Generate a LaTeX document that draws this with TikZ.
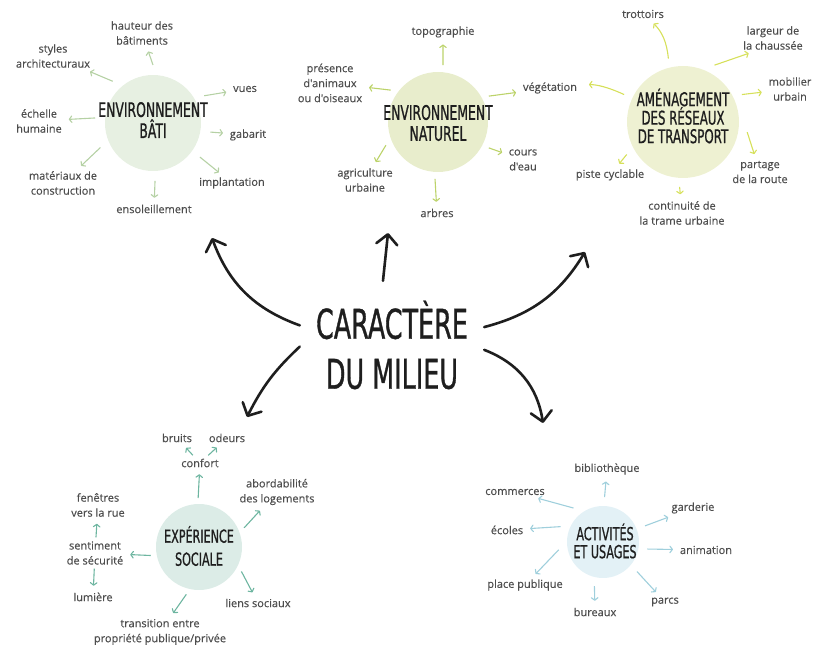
\documentclass[tikz,border=0pt]{standalone}
\usepackage{fontspec}
\setmainfont{Open Sans}
\newfontfamily\etiquettefont[FakeBold=0.35]{Open Sans}
\newfontfamily\mainlevee[FakeStretch=0.62, FakeBold=0.8]{DejaVu Sans}
\usetikzlibrary{arrows.meta}
\definecolor{encre}{HTML}{1E1E1E}
\definecolor{texte}{HTML}{4D4D4D}
\definecolor{fondbati}{HTML}{E7F0E2}
\definecolor{fondnaturel}{HTML}{E8EDCC}
\definecolor{fondtransport}{HTML}{EEF1D2}
\definecolor{fondsociale}{HTML}{DCECE7}
\definecolor{fondusages}{HTML}{E3F1F6}
\definecolor{flbati}{HTML}{B5D1A4}
\definecolor{flnaturel}{HTML}{BCD36A}
\definecolor{fltransport}{HTML}{D6E05A}
\definecolor{flsociale}{HTML}{6DB5A0}
\definecolor{flusages}{HTML}{9FCFDC}
\tikzset{
    cercle/.style={circle, inner sep=0pt, outer sep=8pt},
    titre/.style={align=center, inner sep=0pt, text=encre,
        font=\mainlevee\fontsize{20}{21}\selectfont},
    etiquette/.style={align=center, inner sep=1pt, outer sep=1pt, text=texte,
        font=\etiquettefont\fontsize{11}{15}\selectfont},
    fleche/.style={line width=1.1pt, shorten >=5pt,
        -{Straight Barb[length=2.5pt, width=6.5pt, round]}},
    grandefleche/.style={line width=2.6pt, line cap=round, draw=encre,
        -{Straight Barb[length=10pt, width=21pt, round]}}}

\begin{document}
\begin{tikzpicture}[x=1pt, y=-1pt]
    \useasboundingbox (0,0) rectangle (813,652);

    % Environnement bâti
    \node (bati) [cercle, fill=fondbati, minimum size=96pt, outer sep=10pt] at (153,123) {};
    \node (batititre) [titre] at (153,120) {ENVIRONNEMENT\\BÂTI};
    \node (hauteur) [etiquette] at (142,33) {hauteur des\\bâtiments};
    \node (styles) [etiquette] at (53,56) {styles\\architecturaux};
    \node (vues) [etiquette] at (245,89) {vues};
    \node (echelle) [etiquette] at (39,121) {échelle\\humaine};
    \node (gabarit) [etiquette] at (248,135) {gabarit};
    \node (materiaux) [etiquette] at (63,183) {matériaux de\\construction};
    \node (implantation) [etiquette] at (232,183) {implantation};
    \node (ensoleillement) [etiquette] at (154,209) {ensoleillement};
    \foreach \ang/\cible in {90/hauteur, 134/styles, 28/vues, 175/echelle, -9/gabarit,
            205/materiaux, -36/implantation, -88/ensoleillement}
        \draw[fleche, flbati] (bati.\ang) -- (\cible);

    % Environnement naturel
    \node (naturel) [cercle, fill=fondnaturel, minimum size=100pt, outer sep=7pt] at (438,122) {};
    \node (natureltitre) [titre] at (438,123) {ENVIRONNEMENT\\NATUREL};
    \node (topographie) [etiquette] at (443,32) {topographie};
    \node (presence) [etiquette] at (330,83) {présence\\d'animaux\\ou d'oiseaux};
    \node (vegetation) [etiquette] at (550,88) {végétation};
    \node (cours) [etiquette] at (523,160) {cours\\d'eau};
    \node (agriculture) [etiquette] at (365,180) {agriculture\\urbaine};
    \node (arbres) [etiquette] at (437,213) {arbres};
    \foreach \ang/\cible in {85/topographie, 146/presence, 27/vegetation, -27/cours,
            204/agriculture, -93/arbres}
        \draw[fleche, flnaturel] (naturel.\ang) -- (\cible);

    % Aménagement des réseaux de transport
    \node (transport) [cercle, fill=fondtransport, minimum size=112pt, outer sep=9pt] at (683,122) {};
    \node (transporttitre) [titre, font=\mainlevee\fontsize{19}{18.5}\selectfont] at (683,116)
        {AMÉNAGEMENT\\DES RÉSEAUX\\DE TRANSPORT};
    \node (trottoirs) [etiquette] at (643,14) {trottoirs};
    \node (largeur) [etiquette] at (773,38) {largeur de\\la chaussée};
    \node (mobilier) [etiquette] at (790,89) {mobilier\\urbain};
    \node (partage) [etiquette] at (760,172) {partage\\de la route};
    \node (continuite) [etiquette] at (682,213) {continuité de\\la trame urbaine};
    \node (piste) [etiquette] at (610,175) {piste cyclable};
    \foreach \ang/\cible in {25/mobilier, -9/partage, -93/continuite, 210/piste}
        \draw[fleche, fltransport] (transport.\ang) -- (\cible);
    \draw[fleche, fltransport] (transport.61) -- (largeur.-145);
    \draw[fleche, fltransport] (transport.103) to[bend right=20] (trottoirs);
    \draw[fleche, fltransport, shorten >=10pt] (transport.155) to[bend right=12] (vegetation);

    % Expérience sociale
    \node (sociale) [cercle, fill=fondsociale, minimum size=86pt, outer sep=6pt] at (199,547) {};
    \node (socialetitre) [titre, font=\mainlevee\fontsize{18}{23}\selectfont] at (199,546)
        {EXPÉRIENCE\\SOCIALE};
    \node (confort) [etiquette] at (200,463) {confort};
    \node (bruits) [etiquette] at (177,438) {bruits};
    \node (odeurs) [etiquette] at (227,438) {odeurs};
    \node (abordabilite) [etiquette] at (277,492) {abordabilité\\des logements};
    \node (fenetres) [etiquette] at (98,505) {fenêtres\\vers la rue};
    \node (sentiment) [etiquette] at (95,553) {sentiment\\de sécurité};
    \node (lumiere) [etiquette] at (93,597) {lumière};
    \node (liens) [etiquette] at (258,603) {liens sociaux};
    \node (transition) [etiquette] at (160,632) {transition entre\\propriété publique/privée};
    \foreach \ang/\cible in {91/confort, 23/abordabilite, 190/sentiment, -30/liens, -105/transition}
        \draw[fleche, flsociale] (sociale.\ang) -- (\cible);
    \foreach \de/\vers in {confort/bruits, confort/odeurs, sentiment/fenetres, sentiment/lumiere}
        \draw[fleche, flsociale, shorten <=2pt] (\de) -- (\vers);

    % Activités et usages
    \node (usages) [cercle, fill=fondusages, minimum size=72pt, outer sep=9pt] at (603,542) {};
    \node (usagestitre) [titre, font=\mainlevee\fontsize{18}{18}\selectfont] at (605,541)
        {ACTIVITÉS\\ET USAGES};
    \node (bibliotheque) [etiquette] at (607,469) {bibliothèque};
    \node (commerces) [etiquette] at (515,492) {commerces};
    \node (ecoles) [etiquette] at (507,530) {écoles};
    \node (garderie) [etiquette] at (693,508) {garderie};
    \node (animation) [etiquette] at (706,550) {animation};
    \node (place) [etiquette] at (525,585) {place publique};
    \node (bureaux) [etiquette] at (595,612) {bureaux};
    \node (parcs) [etiquette] at (665,602) {parcs};
    \foreach \ang/\cible in {88/bibliotheque, 131/commerces, 160/ecoles, 21/garderie,
            -9/animation, 190/place, -101/bureaux, -41/parcs}
        \draw[fleche, flusages] (usages.\ang) -- (\cible);

    % Caractère du milieu
    \node (milieu) [minimum width=184pt, minimum height=128pt, inner sep=0pt, align=center,
        text=encre, font=\mainlevee\fontsize{41}{50}\selectfont] at (392,345) {CARACTÈRE\\DU MILIEU};
    \coordinate (versbati) at (212,238);
    \coordinate (versnaturel) at (388,233);
    \coordinate (verstransport) at (585,252);
    \coordinate (verssociale) at (247,417);
    \coordinate (versusages) at (543,423);
    \draw[grandefleche] (milieu.168) to[bend left=25] (versbati);
    \draw[grandefleche] (milieu.98) -- (versnaturel);
    \draw[grandefleche] (milieu.11) to[bend right=22] (verstransport);
    \draw[grandefleche] (milieu.181) to[bend right=10] (verssociale);
    \draw[grandefleche] (milieu.-3) to[bend left=30] (versusages);
\end{tikzpicture}
\end{document}
